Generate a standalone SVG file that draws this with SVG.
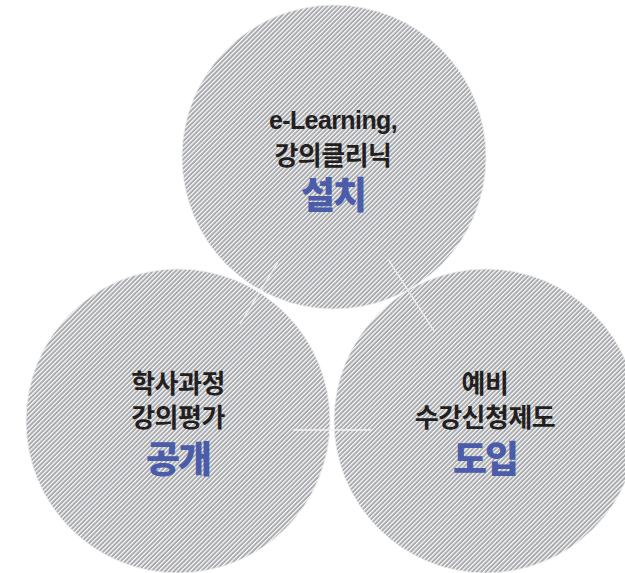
<svg xmlns="http://www.w3.org/2000/svg" width="625" height="573" viewBox="0 0 625 573">
<defs>
<pattern id="hatch" patternUnits="userSpaceOnUse" width="3.2" height="10" patternTransform="rotate(45)">
<rect width="3.2" height="10" fill="#a8a9ad"/>
<rect x="0" y="0" width="1.2" height="10" fill="#ffffff"/>
</pattern>
</defs>
<style>
.circ{fill:url(#hatch);stroke:#ececee;stroke-width:0.8}
.t{font-family:"Noto Sans CJK KR","Liberation Sans",sans-serif;font-size:26px;font-weight:700;fill:#231f20;text-anchor:middle;letter-spacing:-0.5px}
.lat{font-family:"Liberation Sans","Noto Sans CJK KR",sans-serif;font-size:25px;font-weight:700;fill:#231f20;text-anchor:middle;letter-spacing:-0.6px}
.b{font-family:"Noto Sans CJK KR","Liberation Sans",sans-serif;font-size:37px;font-weight:900;fill:#4b5cab;text-anchor:middle;letter-spacing:-2px}
.ln{stroke:#f2f2f4;stroke-width:1.3;fill:none}
</style>
<rect width="625" height="573" fill="#ffffff"/>
<g id="node-top">
<circle class="circ" cx="334" cy="157" r="152"/>
<text class="lat" x="333" y="129">e-Learning,</text>
<text class="t" x="333" y="165">강의클리닉</text>
<text class="b" x="333" y="209">설치</text>
</g>
<g id="node-left">
<circle class="circ" cx="178" cy="421" r="152"/>
<text class="t" x="178" y="393">학사과정</text>
<text class="t" x="178" y="427">강의평가</text>
<text class="b" x="178" y="473">공개</text>
</g>
<g id="node-right">
<circle class="circ" cx="486" cy="421" r="152"/>
<text class="t" x="485" y="393">예비</text>
<text class="t" x="485" y="427">수강신청제도</text>
<text class="b" x="485" y="473">도입</text>
</g>
<g id="connectors">
<line class="ln" x1="278" y1="262" x2="240" y2="324"/>
<line class="ln" x1="388" y1="259" x2="434" y2="331"/>
<line class="ln" x1="293" y1="430" x2="371" y2="430"/>
</g>
</svg>
